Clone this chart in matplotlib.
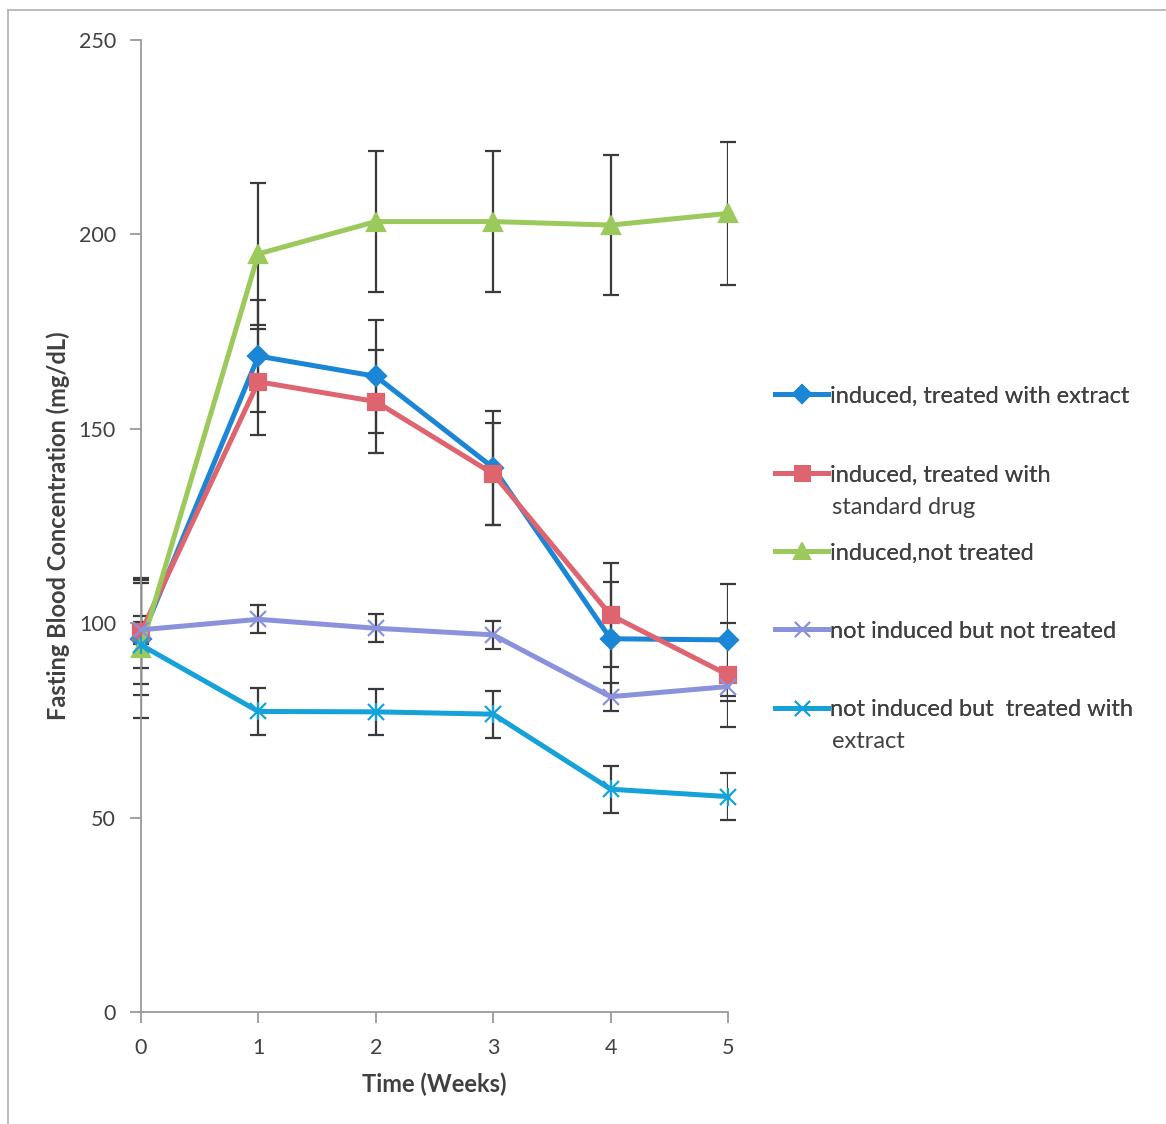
import matplotlib
matplotlib.use("Agg")
import matplotlib.pyplot as plt
from matplotlib.lines import Line2D

plt.rcParams['font.family'] = ['Lato', 'DejaVu Sans']

weeks = [0, 1, 2, 3, 4, 5]

labels = ["induced, treated with extract",
          "induced, treated with\nstandard drug",
          "induced,not treated",
          "not induced but not treated",
          "not induced but  treated with\nextract"]

extract_vals = [96.0, 168.7, 163.5, 140.0, 96.0, 95.7]
extract_err = [14.4, 14.4, 14.6, 14.7, 14.5, 14.4]

drug_vals = [97.7, 162.1, 157.0, 138.4, 102.1, 86.7]
drug_err = [13.4, 13.6, 13.3, 13.1, 13.3, 13.4]

notreat_vals = [93.6, 195.0, 203.3, 203.3, 202.4, 205.4]
notreat_err = [18.0, 18.2, 18.1, 18.1, 18.1, 18.3]

normal_vals = [98.3, 101.0, 98.7, 97.0, 81.1, 83.7]
normal_err = [3.6, 3.6, 3.6, 3.6, 3.6, 3.6]

normal_ext_vals = [94.4, 77.3, 77.2, 76.6, 57.3, 55.4]
normal_ext_err = [6.0, 6.0, 6.0, 6.0, 6.0, 6.0]

colors = ["#1B86D6", "#DE6470", "#9CC95C", "#8A92DC", "#14A2D9"]

W, H = 1166, 1124
fig = plt.figure(figsize=(W / 100, H / 100), dpi=100)
ax = fig.add_axes([141 / W, 1 - 1012 / H, (728 - 141) / W, (1012 - 40) / H])

series = [
    (extract_vals, extract_err, 'D', 10, colors[0]),
    (drug_vals, drug_err, 's', 12, colors[1]),
    (notreat_vals, notreat_err, '^', 13, colors[2]),
    (normal_vals, normal_err, 'x', 12, colors[3]),
    (normal_ext_vals, normal_ext_err, 'x', 12, colors[4]),
]

handles = []
for i, (vals, err, mk, ms, col) in enumerate(series):
    ax.errorbar(weeks, vals, yerr=err, fmt='none', ecolor='#3a3a3a',
                elinewidth=1.6, capsize=6, capthick=1.6, zorder=2 + i * 0.01)
    ax.plot(weeks, vals, color=col, lw=3.6, marker=mk, ms=ms,
            mec=col, mfc=col, mew=1.6, zorder=3 + i, solid_capstyle='round')
    if i == 4:
        ax.plot(weeks, vals, ls='none', marker='|', ms=13, mec=col, mew=1.6,
                zorder=3 + i)
    h = Line2D([0], [0], color=col, lw=3.6, marker=mk, ms=ms * 0.9,
               mec=col, mfc=col, mew=1.4)
    handles.append(h)

ax.set_xlim(0, 5)
ax.set_ylim(0, 250)
ax.set_xticks(weeks)
ax.set_yticks([0, 50, 100, 150, 200, 250])
for s in ['top', 'right']:
    ax.spines[s].set_visible(False)
for s in ['left', 'bottom']:
    ax.spines[s].set_color('#9a9a9a')
    ax.spines[s].set_linewidth(1.3)
ax.tick_params(axis='both', colors='#9a9a9a', length=8, width=1.3,
               labelcolor='#404040', labelsize=15.5, pad=10)
ax.tick_params(axis='x', pad=11)

ax.set_xlabel("Time (Weeks)", fontsize=17, fontweight='bold', color='#404040',
              labelpad=10)
ax.set_ylabel("Fasting Blood Concentration (mg/dL)", fontsize=17,
              fontweight='bold', color='#404040', labelpad=6)
for art in ax.lines:
    art.set_clip_on(False)

# Legend entries (handle aligned with first line of the label)
entry_y = [396, 475, 553, 631, 710]
for h, lab, yy in zip(handles, labels, entry_y):
    first = lab.split("\n")[0]
    leg = fig.legend([h], [first], loc='center left',
                     bbox_to_anchor=(775 / W, 1 - yy / H), frameon=False,
                     fontsize=17, handlelength=2.25, handletextpad=0.1,
                     borderpad=0, borderaxespad=0)
    for t in leg.get_texts():
        t.set_color('#404040')
    fig.add_artist(leg)
    if "\n" in lab:
        fig.text(832 / W, 1 - (yy + 32) / H, lab.split("\n")[1], fontsize=17,
                 color='#404040', va='center', ha='left')

# outer chart frame
fig.add_artist(Line2D([8 / W, 1], [1 - 10 / H, 1 - 10 / H], color='#b0b0b0',
                      lw=1.2, transform=fig.transFigure))
fig.add_artist(Line2D([8 / W, 8 / W], [0, 1 - 10 / H], color='#b0b0b0',
                      lw=1.2, transform=fig.transFigure))

fig.savefig("out.png", dpi=100)
